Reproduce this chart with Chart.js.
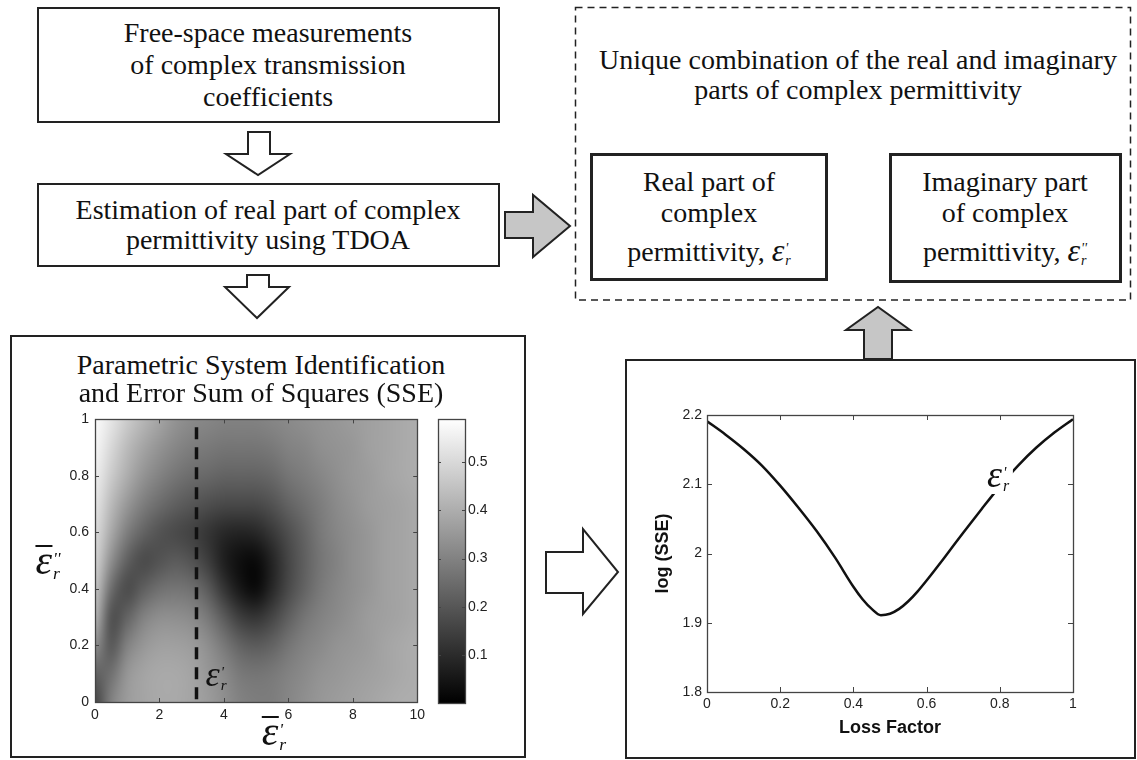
<!DOCTYPE html>
<html><head><meta charset="utf-8">
<script src="https://cdn.jsdelivr.net/npm/chart.js@4.4.1/dist/chart.umd.min.js"></script>
<style>
html,body{margin:0;padding:0}
body{width:1137px;height:760px;position:relative;background:#fff;overflow:hidden;font-family:"Liberation Serif","Times New Roman",serif;color:#111}
svg{position:absolute;left:0;top:0}
.box{position:absolute;box-sizing:border-box;border:2px solid #222;background:#fff}
.thick{border-width:3px}
.t{position:absolute;font-size:28px;line-height:1;white-space:nowrap;transform:translate(-50%,-50%)}
canvas{position:absolute}
.ep{font-style:italic}
.sc{display:inline-block;font-size:0.5em;line-height:0.85;vertical-align:-0.28em;font-style:italic;text-align:left;margin-left:1px}
.sc span{display:block}
.sm{font-size:0.42em}
.ob{display:inline-block;border-top:2px solid #111;line-height:0.62;font-style:italic}
.lab{position:absolute;line-height:1;white-space:nowrap;transform:translate(-50%,-50%)}
</style></head>
<body>
<div class="box" style="left:37px;top:7px;width:463px;height:116px"></div>
<div class="box" style="left:37px;top:183px;width:463px;height:84px"></div>
<div class="box thick" style="left:590px;top:153px;width:238px;height:128px"></div>
<div class="box thick" style="left:889px;top:153px;width:233px;height:130px"></div>
<div class="box" style="left:10px;top:335px;width:516px;height:423px"></div>
<div class="box" style="left:625px;top:359px;width:511px;height:400px"></div>

<svg width="1137" height="760">
<rect x="575.5" y="7.5" width="555" height="292.5" fill="none" stroke="#222" stroke-width="1.5" stroke-dasharray="7 5"/>
<polygon points="248,132 270,132 270,154 290,154 258,175 226,154 248,154" fill="#fff" stroke="#222" stroke-width="2"/>
<polygon points="247,275 269,275 269,287 289,287 257,318 225,287 247,287" fill="#fff" stroke="#222" stroke-width="2"/>
<polygon points="505,212 533,212 533,195 570,226 533,257 533,238 505,238" fill="#c6c6c6" stroke="#222" stroke-width="2"/>
<polygon points="864,359 864,330 846,330 878,307 910,330 892,330 892,359" fill="#c6c6c6" stroke="#222" stroke-width="2"/>
<polygon points="546,552 583,552 583,529 618,572 583,614 583,593 546,593" fill="#fff" stroke="#222" stroke-width="2"/>
</svg>

<canvas id="heat" width="400" height="340" style="left:30px;top:405px"></canvas>
<canvas id="cbar" width="78" height="340" style="left:432px;top:405px"></canvas>
<canvas id="line" width="480" height="350" style="left:640px;top:400px"></canvas>

<div class="t" style="left:268px;top:33px">Free-space measurements</div>
<div class="t" style="left:268px;top:65px">of complex transmission</div>
<div class="t" style="left:268px;top:97px">coefficients</div>
<div class="t" style="left:268px;top:210px">Estimation of real part of complex</div>
<div class="t" style="left:268px;top:240px">permittivity using TDOA</div>
<div class="t" style="left:858px;top:60px">Unique combination of the real and imaginary</div>
<div class="t" style="left:858px;top:90px">parts of complex permittivity</div>
<div class="t" style="left:709px;top:182px">Real part of</div>
<div class="t" style="left:709px;top:213px">complex</div>
<div class="t" style="left:709px;top:250px">permittivity, <span class="ep" style="font-size:32px">ε</span><span class="sc"><span>'</span><span>r</span></span></div>
<div class="t" style="left:1005px;top:182px">Imaginary part</div>
<div class="t" style="left:1005px;top:213px">of complex</div>
<div class="t" style="left:1005px;top:250px">permittivity, <span class="ep" style="font-size:32px">ε</span><span class="sc"><span>''</span><span>r</span></span></div>
<div class="t" style="left:261px;top:365px">Parametric System Identification</div>
<div class="t" style="left:261px;top:393px">and Error Sum of Squares (SSE)</div>

<div class="lab" style="left:216px;top:674px;font-size:36px"><span class="ep">ε</span><span class="sc sm"><span>'</span><span>r</span></span></div>
<div class="lab" style="left:48px;top:560px;font-size:42px"><span class="ob">ε</span><span class="sc sm"><span>''</span><span>r</span></span></div>
<div class="lab" style="left:274px;top:731px;font-size:42px"><span class="ob">ε</span><span class="sc sm"><span>'</span><span>r</span></span></div>
<div class="lab" style="left:998px;top:474px;font-size:38px;background:#fff;padding:1px 4px"><span class="ep">ε</span><span class="sc sm"><span>'</span><span>r</span></span></div>

<script>
// ===== DATA =====
// Line chart: log(SSE) versus loss factor
const lossFactor = [0,0.05,0.1,0.15,0.2,0.25,0.3,0.35,0.4,0.425,0.45,0.475,0.5,0.525,0.55,0.575,0.6,0.65,0.7,0.75,0.8,0.85,0.9,0.95,1];
const logSSE     = [2.191,2.172,2.151,2.127,2.098,2.066,2.032,1.994,1.952,1.934,1.920,1.911,1.913,1.920,1.931,1.945,1.961,1.995,2.030,2.064,2.097,2.127,2.153,2.175,2.194];
const lossTicks  = [0,0.2,0.4,0.6,0.8,1];
const logTicks   = [1.8,1.9,2.0,2.1,2.2];

// Heat map: SSE over (eps_r' , eps_r'') ; one column per eps_r' value, values listed from eps_r''=0 upward
const epsReal = [0,0.5,1,1.5,2,2.5,3,3.5,4,4.5,5,5.5,6,6.5,7,7.5,8,8.5,9,9.5,10];
const epsImag = [0,0.1,0.2,0.3,0.4,0.5,0.6,0.7,0.8,0.9,1];
const sseColumns = [
  [0.15,0.22,0.33,0.42,0.46,0.49,0.51,0.53,0.55,0.57,0.58],
  [0.30,0.26,0.20,0.18,0.25,0.33,0.39,0.43,0.47,0.50,0.53],
  [0.36,0.35,0.30,0.23,0.17,0.22,0.29,0.35,0.40,0.43,0.47],
  [0.38,0.38,0.35,0.30,0.22,0.17,0.23,0.29,0.34,0.38,0.42],
  [0.39,0.39,0.37,0.33,0.26,0.19,0.19,0.25,0.30,0.34,0.38],
  [0.39,0.39,0.37,0.33,0.27,0.21,0.17,0.22,0.27,0.31,0.34],
  [0.38,0.38,0.36,0.32,0.26,0.19,0.15,0.20,0.25,0.29,0.32],
  [0.36,0.35,0.33,0.28,0.21,0.14,0.12,0.18,0.24,0.28,0.31],
  [0.33,0.32,0.28,0.21,0.12,0.07,0.09,0.17,0.23,0.27,0.30],
  [0.30,0.28,0.23,0.14,0.05,0.03,0.08,0.17,0.23,0.27,0.30],
  [0.29,0.27,0.21,0.12,0.02,0.02,0.09,0.17,0.23,0.27,0.30],
  [0.29,0.28,0.23,0.16,0.09,0.08,0.13,0.19,0.24,0.28,0.31],
  [0.31,0.30,0.27,0.22,0.17,0.16,0.18,0.23,0.27,0.30,0.32],
  [0.33,0.32,0.30,0.27,0.23,0.22,0.23,0.26,0.29,0.31,0.33],
  [0.35,0.34,0.32,0.30,0.28,0.27,0.28,0.29,0.31,0.33,0.34],
  [0.36,0.35,0.34,0.32,0.31,0.30,0.31,0.32,0.33,0.34,0.35],
  [0.37,0.36,0.35,0.34,0.33,0.33,0.33,0.34,0.35,0.35,0.36],
  [0.38,0.37,0.36,0.36,0.35,0.35,0.35,0.36,0.36,0.37,0.37],
  [0.39,0.38,0.38,0.37,0.37,0.37,0.37,0.37,0.38,0.38,0.38],
  [0.40,0.39,0.39,0.38,0.38,0.38,0.38,0.38,0.39,0.39,0.39],
  [0.40,0.40,0.40,0.39,0.39,0.39,0.39,0.39,0.40,0.40,0.40]
];
const heatTicksX = [0,2,4,6,8,10];
const heatTicksY = [0,0.2,0.4,0.6,0.8,1];
const markerX = [3.15,3.15];      // dashed line at the estimated eps_r'
const markerY = [0.01,0.99];
const cbarTicks = [0.1,0.2,0.3,0.4,0.5];
const cbarRange = [0,0.59];

// ===== helpers =====
const tickFont = {family:'"Liberation Sans", Arial, sans-serif', size:14};
const fmt = v => String(+(+v).toFixed(2));
const setTicks = arr => s => { s.ticks = arr.map(v => ({value:v})); };
const noGrid = {display:false, drawTicks:false, tickLength:0};

const framePlugin = {
  id:'frame',
  afterDatasetsDraw(chart, args, opts){
    const {ctx, chartArea:a, scales} = chart;
    ctx.save();
    ctx.strokeStyle = '#444'; ctx.lineWidth = 1;
    const L = opts.len || 5;
    const ln = (x1,y1,x2,y2)=>{ctx.beginPath();ctx.moveTo(x1,y1);ctx.lineTo(x2,y2);ctx.stroke();};
    if (opts.xTicks && scales.x) scales.x.ticks.forEach(t=>{
      const p = Math.round(scales.x.getPixelForValue(t.value))+0.5;
      ln(p,a.bottom,p,a.bottom-L); ln(p,a.top,p,a.top+L);
    });
    if (opts.yTicks && scales.y) scales.y.ticks.forEach(t=>{
      const p = Math.round(scales.y.getPixelForValue(t.value))+0.5;
      ln(a.left,p,a.left+L,p); ln(a.right,p,a.right-L,p);
    });
    ctx.lineWidth = 1.3;
    ctx.strokeRect(Math.round(a.left)+0.5, Math.round(a.top)+0.5, Math.round(a.right-a.left), Math.round(a.bottom-a.top));
    ctx.restore();
  }
};

const heatPlugin = {
  id:'heat',
  beforeDatasetsDraw(chart){
    const {ctx, chartArea:a, scales:{x,y}} = chart;
    const nx = epsReal.length, ny = epsImag.length;
    const off = document.createElement('canvas'); off.width = nx; off.height = ny;
    const octx = off.getContext('2d');
    const img = octx.createImageData(nx, ny);
    for (let i=0;i<nx;i++) for (let k=0;k<ny;k++){
      const v = sseColumns[i][k];
      const g = Math.max(0, Math.min(255, Math.round(255*(v-cbarRange[0])/(cbarRange[1]-cbarRange[0]))));
      const row = ny-1-k, idx = (row*nx+i)*4;
      img.data[idx]=g; img.data[idx+1]=g; img.data[idx+2]=g; img.data[idx+3]=255;
    }
    octx.putImageData(img,0,0);
    const dx = (epsReal[1]-epsReal[0])/2, dy = (epsImag[1]-epsImag[0])/2;
    const l = x.getPixelForValue(epsReal[0]-dx), r = x.getPixelForValue(epsReal[nx-1]+dx);
    const t = y.getPixelForValue(epsImag[ny-1]+dy), b = y.getPixelForValue(epsImag[0]-dy);
    ctx.save();
    ctx.beginPath(); ctx.rect(a.left,a.top,a.right-a.left,a.bottom-a.top); ctx.clip();
    ctx.imageSmoothingEnabled = true; ctx.imageSmoothingQuality = 'high';
    ctx.drawImage(off, l, t, r-l, b-t);
    ctx.restore();
  }
};

const cbarPlugin = {
  id:'cbar',
  beforeDatasetsDraw(chart){
    const {ctx, chartArea:a, scales:{y}} = chart;
    const y0 = y.getPixelForValue(cbarRange[0]), y1 = y.getPixelForValue(cbarRange[1]);
    const g = ctx.createLinearGradient(0,y0,0,y1);
    g.addColorStop(0,'#000'); g.addColorStop(1,'#fff');
    ctx.save(); ctx.fillStyle = g; ctx.fillRect(a.left, y1, a.right-a.left, y0-y1); ctx.restore();
  }
};

const base = {responsive:false, animation:false, events:[]};

// ===== heat map =====
new Chart(document.getElementById('heat'), {
  type:'scatter',
  data:{datasets:[{data:markerX.map((v,i)=>({x:v,y:markerY[i]})), showLine:true, borderColor:'#111', borderWidth:3.5, borderDash:[12,8], pointRadius:0}]},
  options:Object.assign({}, base, {
    layout:{padding:{top:14,right:12,left:0,bottom:0}},
    plugins:{legend:{display:false}, tooltip:{enabled:false}, frame:{xTicks:true,yTicks:true,len:4}},
    scales:{
      x:{type:'linear',min:0,max:10,afterBuildTicks:setTicks(heatTicksX),afterFit:s=>{s.height=43},
         grid:noGrid,border:{display:false},ticks:{padding:5,font:tickFont,color:'#222',maxRotation:0,callback:fmt}},
      y:{type:'linear',min:0,max:1,afterBuildTicks:setTicks(heatTicksY),afterFit:s=>{s.width=65},
         grid:noGrid,border:{display:false},ticks:{padding:6,font:tickFont,color:'#222',callback:fmt}}
    }
  }),
  plugins:[heatPlugin, framePlugin]
});

// ===== colour bar =====
new Chart(document.getElementById('cbar'), {
  type:'scatter',
  data:{datasets:[{data:[]}]},
  options:Object.assign({}, base, {
    layout:{padding:{top:14,right:0,left:6,bottom:42}},
    plugins:{legend:{display:false}, tooltip:{enabled:false}, frame:{xTicks:false,yTicks:true,len:3}},
    scales:{
      x:{display:false,min:0,max:1},
      y:{type:'linear',position:'right',min:cbarRange[0],max:cbarRange[1],afterBuildTicks:setTicks(cbarTicks),afterFit:s=>{s.width=45},
         grid:noGrid,border:{display:false},ticks:{padding:3,font:tickFont,color:'#222',callback:fmt}}
    }
  }),
  plugins:[cbarPlugin, framePlugin]
});

// ===== log(SSE) curve =====
new Chart(document.getElementById('line'), {
  type:'scatter',
  data:{datasets:[{data:lossFactor.map((v,i)=>({x:v,y:logSSE[i]})), showLine:true, borderColor:'#111', borderWidth:2.5, pointRadius:0, cubicInterpolationMode:'monotone'}]},
  options:Object.assign({}, base, {
    layout:{padding:{top:15,right:47,left:0,bottom:0}},
    plugins:{legend:{display:false}, tooltip:{enabled:false}, frame:{xTicks:true,yTicks:true,len:5}},
    scales:{
      x:{type:'linear',min:0,max:1,afterBuildTicks:setTicks(lossTicks),afterFit:s=>{s.height=58},
         grid:noGrid,border:{display:false},ticks:{padding:4,font:tickFont,color:'#222',maxRotation:0,callback:fmt},
         title:{display:true,text:'Loss Factor',color:'#111',font:{family:'"Liberation Sans", Arial, sans-serif',size:18,weight:'bold'},padding:{top:0,bottom:11}}},
      y:{type:'linear',min:1.8,max:2.2,afterBuildTicks:setTicks(logTicks),afterFit:s=>{s.width=67},
         grid:noGrid,border:{display:false},ticks:{padding:5,font:tickFont,color:'#222',callback:fmt},
         title:{display:true,text:'log (SSE)',color:'#111',font:{family:'"Liberation Sans", Arial, sans-serif',size:18,weight:'bold'},padding:{top:12,bottom:0}}}
    }
  }),
  plugins:[framePlugin]
});
</script>
</body></html>
